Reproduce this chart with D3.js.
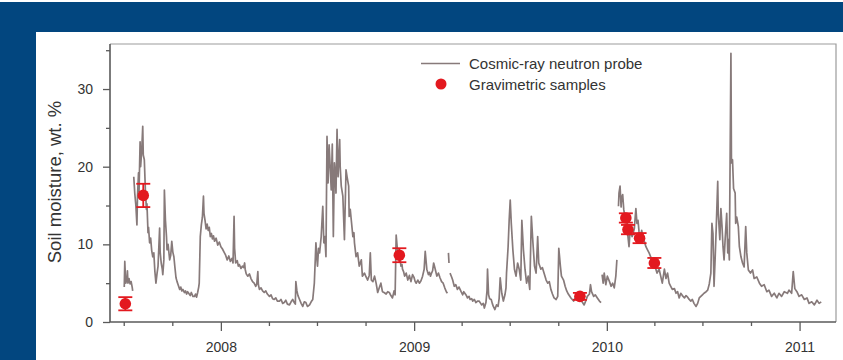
<!DOCTYPE html>
<html>
<head>
<meta charset="utf-8">
<script src="https://cdn.jsdelivr.net/npm/d3@7"></script>
<style>
  body { margin: 0; background: #fff; }
  svg { display: block; }
  text { font-family: "Liberation Sans", Arial, Helvetica, sans-serif; }
</style>
</head>
<body>
<div id="chart"></div>
<script>
// ---- data ----
// Cosmic-ray probe: [days since 1 Jul 2007, soil moisture wt.%], null = gap in record
var probeStart = new Date(2007, 6, 1);
var probeReadings = [
  [1,4.5],[2,7.8],[3,6.2],[4,5.0],[5,5.8],[6,5.2],[7,6.6],[8,5.0],[10,5.6],[12,4.9],[14,5.2],[16,4.5],[17,4.0],
  null,
  [19,18.7],[21,16.5],[23,15.0],[25,12.5],[26,16.0],[28,19.2],[29,16.8],[31,23.2],[32,20.0],[34,22.0],[36,25.2],[37,21.5],
  [39,20.9],[41,17.0],[43,14.5],[44,15.2],[46,11.5],[47,12.2],[49,10.2],[51,10.8],[53,9.2],[55,8.4],[57,8.9],[59,6.5],
  [61,5.0],[63,6.2],[65,7.2],[68,12.1],[69,9.0],[71,7.6],[73,6.8],[74,6.1],[76,8.0],[77,17.0],[79,13.1],[81,11.0],
  [82,9.3],[84,10.0],[87,8.0],[89,8.6],[91,10.4],[93,9.0],[95,8.4],[97,7.0],[99,5.7],[101,5.2],[103,4.8],[106,4.2],
  [108,4.5],[110,4.0],[112,4.2],[115,3.8],[117,4.0],[119,3.6],[121,3.9],[124,3.6],[126,3.4],[128,3.8],[131,3.3],
  [134,3.3],[136,3.6],[138,3.2],[140,3.8],[142,4.5],[143,5.0],[145,11.0],[147,12.5],[149,13.5],[151,16.2],[152,14.0],
  [154,13.1],[156,12.0],[158,12.6],[160,11.8],[162,12.2],[164,11.0],[166,11.4],[168,10.7],[170,11.1],[172,10.4],
  [175,10.8],[178,9.9],[181,10.3],[184,9.7],[187,9.4],[190,9.0],[193,8.6],[196,8.0],[199,8.5],[202,7.8],[205,8.2],
  [207,7.6],[209,13.6],[210,9.5],[212,7.6],[215,7.9],[217,7.2],[219,7.4],[222,6.9],[225,7.2],[227,7.0],[229,7.6],
  [230,6.8],[232,6.2],[235,5.9],[238,6.2],[241,5.6],[244,5.2],[247,5.0],[250,4.6],[252,4.9],[254,6.5],[255,4.8],
  [257,4.2],[260,4.4],[263,4.0],[266,3.8],[269,4.0],[272,3.6],[276,3.3],[279,3.5],[282,3.0],[285,2.9],[288,3.1],
  [291,2.7],[295,2.7],[298,2.9],[301,2.4],[304,2.5],[307,2.8],[310,2.3],[314,2.2],[317,2.6],[320,2.9],[323,2.5],
  [325,2.3],[326,5.2],[328,4.0],[330,3.4],[333,2.9],[336,2.4],[339,2.0],[342,2.6],[345,2.5],[348,2.0],[352,2.2],
  [355,2.6],[358,2.9],[361,5.0],[364,10.2],[366,8.0],[367,7.2],[369,9.5],[371,8.9],[374,11.0],[377,14.9],[379,10.2],
  [381,11.0],[383,8.4],[385,23.9],[387,17.9],[389,22.8],[391,20.0],[393,17.0],[395,22.9],[397,11.0],[399,20.5],
  [401,18.5],[402,16.6],[404,24.8],[406,18.7],[409,23.5],[410,20.0],[412,17.5],[415,16.2],[418,10.6],[421,19.6],
  [423,18.7],[426,17.5],[427,13.6],[429,14.5],[431,13.1],[434,11.0],[436,11.5],[437,10.2],[440,8.4],[443,8.9],
  [446,7.2],[450,8.0],[452,5.9],[456,6.3],[459,5.8],[462,5.4],[465,6.0],[467,8.9],[469,5.4],[472,5.2],[475,5.9],
  [478,5.0],[481,3.8],[484,4.4],[487,5.0],[490,3.9],[493,3.8],[497,3.6],[500,3.9],[503,3.8],[506,3.4],[509,3.1],
  [512,4.0],[514,3.5],[516,11.2],[518,9.6],[520,9.0],[522,8.4],[524,7.8],[525,7.2],[527,7.4],[528,6.8],[530,6.5],
  [532,5.9],[535,6.3],[538,5.4],[541,6.0],[544,5.2],[547,6.1],[550,5.7],[552,5.2],[554,5.0],[557,5.4],[560,5.0],
  [563,5.3],[566,5.9],[569,6.8],[571,9.1],[574,6.8],[577,6.1],[579,6.4],[581,5.9],[583,6.3],[585,6.6],[587,7.6],
  [590,6.8],[593,5.9],[596,6.3],[599,5.7],[602,5.2],[605,5.0],[608,4.4],[611,3.9],[613,3.7],
  null,
  [615,8.9],[616,7.6],
  null,
  [618,6.3],[621,5.8],[623,5.4],[626,4.6],[629,4.8],[632,4.2],[635,4.5],[639,3.9],[642,3.5],[644,3.9],[646,3.7],
  [649,3.4],[651,3.1],[654,3.3],[656,2.9],[659,3.0],[661,2.7],[664,2.9],[667,2.5],[670,2.7],[673,2.7],[676,2.4],
  [678,2.2],[681,2.4],[683,1.8],[686,2.5],[688,4.0],[689,6.8],[691,3.5],[693,3.0],[696,2.9],[698,2.4],[700,2.0],
  [703,1.6],[706,2.2],[709,2.0],[711,3.0],[713,5.7],[716,3.7],[719,2.7],[722,3.5],[724,4.4],[725,6.3],[728,9.7],
  [730,13.1],[732,15.7],[734,12.7],[737,9.3],[740,6.8],[743,5.9],[746,7.6],[749,6.8],[752,5.4],[754,13.1],[757,9.3],
  [760,6.8],[763,5.0],[766,5.9],[769,4.2],[772,13.6],[775,10.2],[778,7.2],[781,6.3],[784,11.0],[786,7.6],[790,6.8],
  [793,7.0],[797,6.1],[800,5.4],[803,5.0],[806,5.2],[809,4.2],[812,3.6],[815,3.1],[819,2.9],[822,3.3],[824,9.5],
  [827,7.2],[829,5.9],[833,5.4],[836,4.6],[839,4.0],[842,3.6],[847,3.1],[852,2.7],[854,3.0],[857,3.3],[860,3.0],
  [863,3.3],[866,2.8],[869,2.5],[872,2.2],[875,2.7],[878,3.3],[882,3.6],[884,4.8],[886,3.9],[890,3.3],[893,3.5],
  [897,3.1],[901,2.7],[904,2.5],
  null,
  [906,6.1],[908,5.0],[910,6.3],[913,4.8],[916,5.9],[920,5.2],[923,4.6],[926,5.0],[929,4.4],[932,5.9],[934,8.0],
  null,
  [937,14.9],[938,16.6],[940,17.5],[942,14.8],[943,16.0],[945,16.4],[947,14.5],[949,13.6],[951,13.0],[953,13.1],
  [955,11.0],[957,9.7],[959,11.8],[961,11.3],[963,11.0],[965,11.5],[967,12.0],[970,14.6],[972,12.7],[974,13.1],
  [976,11.6],[978,10.8],[981,11.8],[983,11.0],[986,10.4],[989,9.7],[992,9.3],[995,8.9],[998,8.4],[1001,7.6],
  [1005,7.8],[1007,7.0],[1010,6.3],[1014,6.8],[1017,5.9],[1020,5.0],[1024,6.8],[1027,5.6],[1030,6.3],[1033,5.0],
  [1036,4.6],[1039,4.2],[1043,4.3],[1046,3.7],[1049,3.9],[1052,3.1],[1055,3.7],[1058,3.4],[1062,3.1],[1065,3.4],
  [1068,3.2],[1071,2.9],[1074,2.7],[1077,2.9],[1080,2.4],[1084,2.0],[1087,2.4],[1090,3.1],[1093,3.3],[1096,3.5],
  [1099,3.7],[1103,3.9],[1106,4.1],[1109,4.9],[1112,6.3],[1114,12.7],[1116,11.4],[1118,4.6],[1120,8.0],[1122,11.8],
  [1125,18.1],[1126,14.0],[1129,10.6],[1131,14.6],[1133,12.5],[1135,9.7],[1137,8.0],[1139,10.6],[1142,14.0],
  [1144,8.9],[1145,10.6],[1147,8.0],[1150,34.6],[1151,20.5],[1153,20.9],[1155,17.2],[1158,16.6],[1159,12.7],
  [1161,13.5],[1164,12.3],[1166,9.7],[1169,8.4],[1172,7.6],[1175,7.1],[1178,12.3],[1180,8.9],[1183,6.7],[1187,6.3],
  [1191,6.7],[1194,5.6],[1199,5.8],[1204,5.0],[1208,4.6],[1213,4.8],[1218,3.9],[1222,4.1],[1227,3.3],[1232,3.7],
  [1237,3.1],[1241,3.7],[1246,3.3],[1251,3.9],[1257,3.7],[1260,4.1],[1265,3.7],[1268,6.5],[1271,4.3],[1275,3.9],
  [1279,3.3],[1284,3.5],[1289,2.9],[1294,3.1],[1298,2.4],[1303,2.6],[1308,2.2],[1313,2.8],[1317,2.4],[1321,2.6]
];

// Gravimetric samples with error bars
var gravDates  = ['2007-07-04', '2007-08-07', '2008-12-04', '2009-11-11', '2010-02-06', '2010-02-10', '2010-03-04', '2010-04-01'];
var gravValues = [2.35, 16.3, 8.6, 3.3, 13.4, 11.9, 10.8, 7.6];
var gravErrors = [0.85, 1.5, 0.9, 0.45, 0.6, 0.6, 0.65, 0.65];

var yMajorTicks = [0, 10, 20, 30];
var yMinorTicks = [5, 15, 25, 35];
var xYearTicks = [2008, 2009, 2010, 2011];
var legendLabels = ['Cosmic-ray neutron probe', 'Gravimetric samples'];
var yTitle = 'Soil moisture, wt. %';

// ---- layout ----
var W = 843, H = 360;
var plot = { left: 110, right: 836, top: 44, bottom: 322 };
var navy = '#02467f', ink = '#333', axisCol = '#5a5a5a', frameCol = '#9c9c9c';
var probeCol = '#877a7a', gravCol = '#e3191f';

var svg = d3.select('#chart').append('svg').attr('width', W).attr('height', H);

// blue frame
svg.append('rect').attr('x', 0).attr('y', 2).attr('width', W).attr('height', 30).attr('fill', navy);
svg.append('rect').attr('x', 0).attr('y', 2).attr('width', 36).attr('height', H - 2).attr('fill', navy);

var x = d3.scaleTime()
  .domain([new Date(2007, 5, 5), new Date(2011, 2, 11)])
  .range([plot.left, plot.right]);
var y = d3.scaleLinear().domain([0, 35.8]).range([plot.bottom, plot.top]);

function dayToDate(d) { return d3.timeDay.offset(probeStart, d); }

// top and right frame
svg.append('path')
  .attr('d', 'M' + plot.left + ',' + plot.top + 'H' + plot.right + 'V' + plot.bottom)
  .attr('fill', 'none').attr('stroke', frameCol).attr('stroke-width', 1.2);

// probe line
var line = d3.line()
  .defined(function(d) { return d != null; })
  .x(function(d) { return x(dayToDate(d[0])); })
  .y(function(d) { return y(d[1]); });
svg.append('path').datum(probeReadings)
  .attr('d', line).attr('fill', 'none')
  .attr('stroke', probeCol).attr('stroke-width', 1.7).attr('stroke-linejoin', 'round');

// gravimetric samples
var grav = gravDates.map(function(s, i) {
  return { date: d3.timeParse('%Y-%m-%d')(s), v: gravValues[i], e: gravErrors[i] };
});
var gg = svg.append('g').attr('stroke', gravCol).attr('stroke-width', 1.8);
grav.forEach(function(d) {
  var cx = x(d.date);
  gg.append('line').attr('x1', cx).attr('x2', cx).attr('y1', y(d.v - d.e)).attr('y2', y(d.v + d.e));
  [d.v - d.e, d.v + d.e].forEach(function(v) {
    gg.append('line').attr('x1', cx - 7).attr('x2', cx + 7).attr('y1', y(v)).attr('y2', y(v));
  });
});
svg.append('g').selectAll('circle').data(grav).enter().append('circle')
  .attr('cx', function(d) { return x(d.date); })
  .attr('cy', function(d) { return y(d.v); })
  .attr('r', 5.8).attr('fill', gravCol);

// y axis
var yAxis = svg.append('g').attr('transform', 'translate(' + plot.left + ',0)');
yAxis.call(d3.axisLeft(y).tickValues(yMajorTicks).tickSize(7).tickPadding(10).tickFormat(d3.format('d')));
var yMinor = svg.append('g').attr('transform', 'translate(' + plot.left + ',0)');
yMinor.call(d3.axisLeft(y).tickValues(yMinorTicks).tickSize(4).tickFormat(''));
yMinor.select('.domain').remove();

// x axis
var years = xYearTicks.map(function(yr) { return new Date(yr, 0, 1); });
var quarters = d3.timeMonth.every(3).range(x.domain()[0], x.domain()[1])
  .filter(function(d) { return d.getMonth() !== 0; });
var xAxis = svg.append('g').attr('transform', 'translate(0,' + plot.bottom + ')');
xAxis.call(d3.axisBottom(x).tickValues(years).tickSize(9).tickPadding(11).tickFormat(d3.timeFormat('%Y')));
var xMinor = svg.append('g').attr('transform', 'translate(0,' + plot.bottom + ')');
xMinor.call(d3.axisBottom(x).tickValues(quarters).tickSize(4).tickFormat(''));
xMinor.select('.domain').remove();

[yAxis, yMinor, xAxis, xMinor].forEach(function(a) {
  a.selectAll('.domain').attr('stroke', axisCol).attr('stroke-width', 1.6);
  a.selectAll('.tick line').attr('stroke', axisCol).attr('stroke-width', 1.3);
  a.selectAll('.tick text').attr('fill', ink).attr('font-size', 14);
});
yAxis.select('.domain').attr('d', 'M0,' + plot.bottom + 'V' + plot.top);
xAxis.select('.domain').attr('d', 'M' + plot.left + ',0H' + plot.right);

// y title
svg.append('text')
  .attr('transform', 'translate(61,182) rotate(-90)')
  .attr('text-anchor', 'middle').attr('fill', ink).attr('font-size', 18.5)
  .text(yTitle);

// legend
var lg = svg.append('g');
lg.append('line').attr('x1', 421).attr('x2', 460).attr('y1', 63.5).attr('y2', 63.5)
  .attr('stroke', probeCol).attr('stroke-width', 1.5);
lg.append('circle').attr('cx', 441).attr('cy', 84).attr('r', 5.5).attr('fill', gravCol);
legendLabels.forEach(function(t, i) {
  lg.append('text').attr('x', 469).attr('y', 68.5 + i * 21).attr('fill', ink).attr('font-size', 15).text(t);
});
</script>
</body>
</html>
